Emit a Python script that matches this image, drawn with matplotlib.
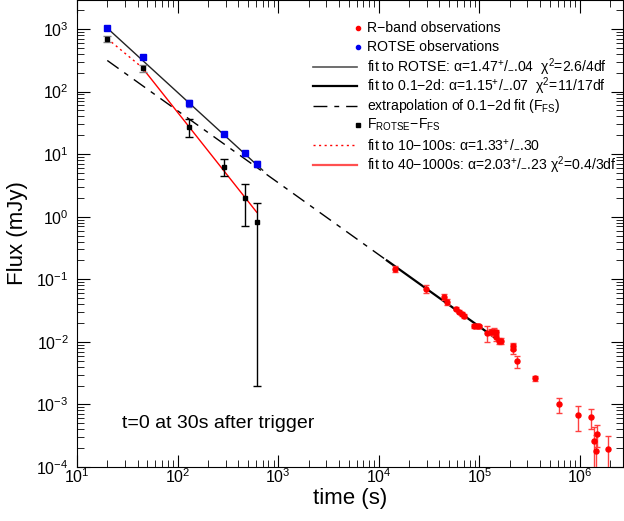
import numpy as np
import matplotlib
matplotlib.use("Agg")
import matplotlib.pyplot as plt
from matplotlib.ticker import LogLocator, LogFormatterMathtext, NullFormatter

plt.rcParams['font.family'] = ['Liberation Sans', 'DejaVu Sans']
plt.rcParams['mathtext.fontset'] = 'custom'
plt.rcParams['mathtext.rm'] = 'Liberation Sans'
plt.rcParams['mathtext.it'] = 'Liberation Sans:italic'
plt.rcParams['mathtext.bf'] = 'Liberation Sans:bold'

# ROTSE observations (t in s, flux in mJy)
rotse_t = [20, 45, 129, 289, 466, 612]
rotse_f = [1030, 360, 65, 21, 10.3, 7.0]
rotse_err = [70, 30, 8, 1.6, 1.0, 0.7]

# F_ROTSE - F_FS
diff_t = [20, 45, 129, 289, 466, 612]
diff_f = [700, 235, 27.5, 6.3, 2.0, 0.82]
diff_err = [80, 28, 9, 1.9, 1.3, 0.818]

# R-band observations
rband_t = [14600, 29700, 44200, 47300, 58000, 62700, 67200, 69500, 88300, 93800,
           98900, 120000, 129000, 138000, 145000, 147000, 156000, 163000, 215000,
           217000, 236000, 356000, 612000, 950000, 1.27e6, 1.36e6, 1.43e6, 1.47e6, 1.89e6]
rband_f = [0.147, 0.0695, 0.053, 0.044, 0.034, 0.0305, 0.0277, 0.026, 0.018, 0.018,
           0.0177, 0.014, 0.0146, 0.0145, 0.0142, 0.0119, 0.0105, 0.0105, 0.0085,
           0.0078, 0.0049, 0.0026, 0.0010, 0.00067, 0.00062, 0.000263, 0.000182, 0.000335, 0.000193]
rband_err = [0.015, 0.010, 0.006, 0.005, 0.002, 0.002, 0.002, 0.002, 0.0012, 0.0012,
             0.001, 0.004, 0.0015, 0.002, 0.0015, 0.0015, 0.0012, 0.0012, 0.0012,
             0.0015, 0.0011, 0.0002, 0.00028, 0.00029, 0.00022, 0.00018, 0.00014, 0.00013, 0.00012]

# power-law fits: (norm at t0, t0, alpha, t_start, t_end)
fit_rotse = (1030, 20, 1.47, 20, 700)
fit_late = (0.2, 12000, 1.15, 12000, 165000)
fit_extrap = (0.2, 12000, 1.15, 20, 12000)
fit_early = (700, 20, 1.33, 20, 45)
fit_mid = (235, 45, 2.03, 45, 612)


def powerlaw(p):
    f0, t0, a, ta, tb = p
    t = np.logspace(np.log10(ta), np.log10(tb), 50)
    return t, f0 * (t / t0) ** (-a)


fig = plt.figure(figsize=(6.24, 5.21), dpi=100)
ax = fig.add_axes([77/624, 54/521, 546/624, 467/521])

dash_pat = (10, 5, 3.5, 5)
t, f = powerlaw(fit_extrap)
ax.plot(t, f, color='black', lw=1.0, dashes=dash_pat)
t, f = powerlaw(fit_rotse)
ax.plot(t, f, color='#222222', lw=1.0)
t, f = powerlaw(fit_late)
ax.plot(t, f, color='black', lw=1.6)
t, f = powerlaw(fit_early)
ax.plot(t, f, color='red', lw=1.0, ls=(0, (1.5, 2.5)))
t, f = powerlaw(fit_mid)
ax.plot(t, f, color='red', lw=1.0)

ax.errorbar(rotse_t, rotse_f, yerr=rotse_err, fmt='s', ms=4.5, color='#0000ee',
            ecolor='#6060c0', capsize=2.5, elinewidth=1.2, zorder=4)
ecol = ['#808080', '#808080', 'black', 'black', 'black', 'black']
for ti, fi, ei, ec in zip(diff_t, diff_f, diff_err, ecol):
    ax.errorbar([ti], [fi], yerr=[ei], fmt='s', ms=3, color='black',
                ecolor=ec, capsize=3, elinewidth=1.0, zorder=4)
ax.errorbar(rband_t, rband_f, yerr=rband_err, fmt='o', ms=3.6, color='red',
            ecolor='#ff4040', capsize=2.5, elinewidth=1.0, zorder=4)

ax.set_xscale('log')
ax.set_yscale('log')
ax.set_xlim(10, 2.67e6)
ax.set_ylim(1e-4, 2900)

for axis in (ax.xaxis, ax.yaxis):
    axis.set_major_locator(LogLocator(base=10, numticks=20))
    axis.set_minor_locator(LogLocator(base=10, subs=np.arange(2, 10), numticks=20))
    axis.set_minor_formatter(NullFormatter())
    axis.set_major_formatter(LogFormatterMathtext())
ax.tick_params(which='both', direction='in', top=True, right=True, labelsize=11.5)
ax.tick_params(which='major', length=9)
ax.tick_params(which='minor', length=5)
ax.tick_params(axis='x', pad=0)
ax.tick_params(axis='y', pad=6)

ax.set_xlabel('time (s)', fontsize=16, labelpad=2)
ax.set_ylabel('Flux (mJy)', fontsize=16, labelpad=6)

ax.text(0.083, 0.094, 't=0 at 30s after trigger', transform=ax.transAxes,
        fontsize=14, va='center')

# legend drawn by hand to match the layout
lx0, lx1, mx, tx = 0.432, 0.513, 0.515, 0.531
rows = [0.940, 0.899, 0.857, 0.816, 0.773, 0.732, 0.690, 0.647]
labels = [
    'R\u2212band observations',
    'ROTSE observations',
    'fit to ROTSE: \u03b1=1.47$^{+}$/$_{-}$.04  \u03c7$^{2}$=2.6/4df',
    'fit to 0.1\u22122d: \u03b1=1.15$^{+}$/$_{-}$.07  \u03c7$^{2}$=11/17df',
    'extrapolation of 0.1\u22122d fit (F$_{\\rm FS}$)',
    'F$_{\\rm ROTSE}$\u2212F$_{\\rm FS}$',
    'fit to 10\u2212100s: \u03b1=1.33$^{+}$/$_{-}$.30',
    'fit to 40\u22121000s: \u03b1=2.03$^{+}$/$_{-}$.23 \u03c7$^{2}$=0.4/3df',
]
kw = dict(transform=ax.transAxes, clip_on=False)
ax.plot([mx], [rows[0]], 'o', color='red', ms=3, **kw)
ax.plot([mx], [rows[1]], 'o', color='#0000ee', ms=3, **kw)
ax.plot([lx0, lx1], [rows[2]] * 2, color='#555555', lw=1.2, **kw)
ax.plot([lx0, lx1], [rows[3]] * 2, color='black', lw=1.6, **kw)
ax.plot([lx0, lx1], [rows[4]] * 2, color='black', lw=1.0, dashes=dash_pat, **kw)
ax.plot([mx], [rows[5]], 's', color='black', ms=3, **kw)
ax.plot([lx0, lx1], [rows[6]] * 2, color='red', lw=1.0, ls=(0, (1.5, 2.5)), **kw)
ax.plot([lx0, lx1], [rows[7]] * 2, color='#ff5050', lw=1.6, **kw)
for y, s in zip(rows, labels):
    ax.text(tx, y, s, transform=ax.transAxes, fontsize=10.1, va='center')

fig.savefig('out.png', dpi=100)
